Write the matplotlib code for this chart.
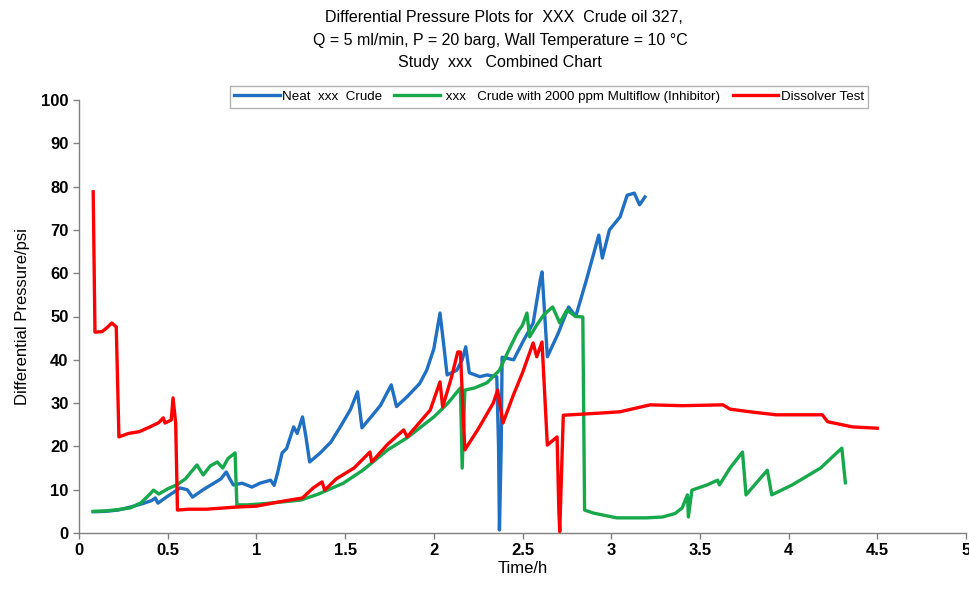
import matplotlib
matplotlib.use("Agg")
import matplotlib.pyplot as plt

plt.rcParams['font.family'] = ['Liberation Sans', 'DejaVu Sans']

# ---- data ----
blue_t = [0.08, 0.15, 0.22, 0.29, 0.36, 0.41, 0.43, 0.445, 0.50, 0.57, 0.61, 0.64, 0.70, 0.76, 0.80,
          0.83, 0.85, 0.87, 0.92, 0.975, 1.02, 1.08, 1.10, 1.12, 1.145, 1.17, 1.21, 1.23, 1.26, 1.28,
          1.30, 1.36, 1.42, 1.48, 1.53, 1.57, 1.595, 1.65, 1.70, 1.76, 1.79, 1.85, 1.92, 1.96, 2.00,
          2.035, 2.06, 2.075, 2.10, 2.13, 2.16, 2.18, 2.20, 2.26, 2.30, 2.355, 2.365, 2.37, 2.38,
          2.385, 2.45, 2.50, 2.56, 2.60, 2.61, 2.64, 2.70, 2.76, 2.80, 2.86, 2.93, 2.95, 2.99, 3.05,
          3.09, 3.13, 3.16, 3.19]
blue_v = [4.9, 5.0, 5.3, 6.0, 6.8, 7.5, 8.1, 6.9, 8.5, 10.4, 10.0, 8.3, 10.0, 11.5, 12.5,
          14.1, 12.5, 11.1, 11.5, 10.6, 11.5, 12.2, 11.0, 14.0, 18.5, 19.5, 24.5, 23.0, 26.8, 22.0,
          16.4, 18.5, 21.0, 25.0, 28.5, 32.6, 24.3, 27.0, 29.5, 34.2, 29.2, 31.5, 34.5, 37.6, 42.5,
          50.8, 42.0, 36.5, 37.0, 37.6, 40.0, 43.0, 37.0, 36.1, 36.5, 36.1, 20.0, 0.7, 20.0,
          40.6, 40.0, 44.0, 48.5, 58.4, 60.3, 40.7, 46.0, 52.2, 50.0, 58.4, 68.8, 63.5, 70.0, 73.0,
          78.0, 78.5, 75.8, 77.6]

green_t = [0.08, 0.15, 0.22, 0.29, 0.35, 0.40, 0.42, 0.45, 0.50, 0.55, 0.60, 0.63, 0.665, 0.70, 0.74,
           0.78, 0.81, 0.84, 0.88, 0.885, 0.89, 0.95, 1.05, 1.15, 1.25, 1.35, 1.49, 1.60, 1.74, 1.85,
           2.00, 2.08, 2.15, 2.16, 2.175, 2.23, 2.30, 2.37, 2.42, 2.47, 2.50, 2.525, 2.54, 2.58, 2.62,
           2.67, 2.71, 2.75, 2.80, 2.84, 2.85, 2.90, 3.03, 3.20, 3.29, 3.36, 3.40, 3.43, 3.435, 3.455,
           3.54, 3.60, 3.61, 3.67, 3.74, 3.76, 3.88, 3.905, 4.02, 4.18, 4.30, 4.32]
green_v = [5.0, 5.1, 5.4, 5.8, 7.0, 9.0, 9.9, 9.0, 10.2, 11.1, 12.5, 14.0, 15.7, 13.4, 15.5,
           16.4, 15.0, 17.2, 18.5, 12.0, 6.5, 6.5, 6.8, 7.2, 7.6, 9.0, 11.5, 14.5, 19.2, 22.0,
           26.8, 30.0, 33.5, 15.0, 33.0, 33.5, 34.7, 37.6, 42.0, 46.2, 48.0, 50.8, 45.3, 48.0, 50.4,
           52.2, 48.5, 51.5, 50.0, 49.9, 5.3, 4.6, 3.5, 3.5, 3.7, 4.5, 5.8, 8.8, 3.7, 9.9,
           11.1, 12.2, 11.1, 15.0, 18.7, 8.8, 14.5, 8.8, 11.1, 15.0, 19.6, 11.6]

red_t = [0.08, 0.09, 0.13, 0.16, 0.185, 0.21, 0.225, 0.28, 0.34, 0.40, 0.45, 0.475, 0.485, 0.52, 0.53,
         0.545, 0.555, 0.62, 0.72, 0.89, 1.00, 1.13, 1.26, 1.32, 1.37, 1.385, 1.45, 1.55, 1.64, 1.65,
         1.74, 1.83, 1.85, 1.98, 2.035, 2.05, 2.10, 2.135, 2.15, 2.175, 2.25, 2.335, 2.36, 2.39, 2.45,
         2.50, 2.56, 2.58, 2.61, 2.64, 2.695, 2.705, 2.71, 2.72, 2.73, 2.94, 3.05, 3.22, 3.40, 3.63,
         3.67, 3.80, 3.93, 4.19, 4.22, 4.36, 4.50]
red_v = [78.8, 46.4, 46.5, 47.5, 48.5, 47.6, 22.2, 23.0, 23.4, 24.5, 25.5, 26.6, 25.4, 26.1, 31.2,
         25.4, 5.3, 5.5, 5.5, 6.0, 6.2, 7.2, 8.1, 10.4, 11.8, 9.9, 12.5, 15.0, 18.7, 16.4,
         20.5, 23.8, 22.2, 28.4, 34.9, 29.1, 36.0, 41.8, 41.8, 19.2, 24.0, 30.0, 33.0, 25.4, 32.0,
         37.0, 43.9, 40.7, 44.1, 20.3, 22.2, 5.0, 0.3, 14.0, 27.2, 27.7, 28.0, 29.6, 29.4, 29.6,
         28.6, 27.9, 27.3, 27.3, 25.7, 24.5, 24.2]

labels = ["Neat  xxx  Crude", " xxx   Crude with 2000 ppm Multiflow (Inhibitor)", "Dissolver Test"]
colors = ["#1f6fc3", "#16a84b", "#ff0000"]
x_ticks = [0, 0.5, 1, 1.5, 2, 2.5, 3, 3.5, 4, 4.5, 5]
y_ticks = list(range(0, 101, 10))

fig = plt.figure(figsize=(9.69, 5.90), dpi=100)
ax = fig.add_axes([79/969, 1-533/590, (966-79)/969, (533-100)/590])

for t, v, c, lab in zip([blue_t, green_t, red_t], [blue_v, green_v, red_v], colors, labels):
    ax.plot(t, v, color=c, lw=2.4, label=lab, solid_joinstyle='round')

ax.set_xlim(0, 5)
ax.set_ylim(0, 100)
ax.set_xticks(x_ticks)
ax.set_xticklabels([f"{x:g}" for x in x_ticks])
ax.set_yticks(y_ticks)
for s in ['top', 'right']:
    ax.spines[s].set_visible(False)
for s in ['left', 'bottom']:
    ax.spines[s].set_color('#808080')
    ax.spines[s].set_linewidth(1.0)
ax.tick_params(axis='both', colors='#808080', length=4, width=1, labelcolor='black', labelsize=12)
for lbl in ax.get_xticklabels() + ax.get_yticklabels():
    lbl.set_fontweight('bold')
ax.set_xlabel("Time/h", fontsize=12, labelpad=2)
ax.set_ylabel("Differential Pressure/psi", fontsize=12, labelpad=8)

fig.text(504/969, 1-17/590, "Differential Pressure Plots for  XXX  Crude oil 327,", ha='center', va='center', fontsize=11.5)
fig.text(500/969, 1-40/590, "Q = 5 ml/min, P = 20 barg, Wall Temperature = 10 °C", ha='center', va='center', fontsize=11.5)
fig.text(500/969, 1-63/590, "Study  xxx   Combined Chart", ha='center', va='center', fontsize=11.5)

leg = fig.legend(loc='center', bbox_to_anchor=(549/969, 1-97/590), ncol=3, fontsize=9.6,
                 frameon=True, fancybox=False, edgecolor='#a0a0a0', handlelength=3.4,
                 handletextpad=0.2, columnspacing=0.9, borderpad=0.35)
leg.get_frame().set_linewidth(1.0)

fig.savefig("out.png", dpi=100)
